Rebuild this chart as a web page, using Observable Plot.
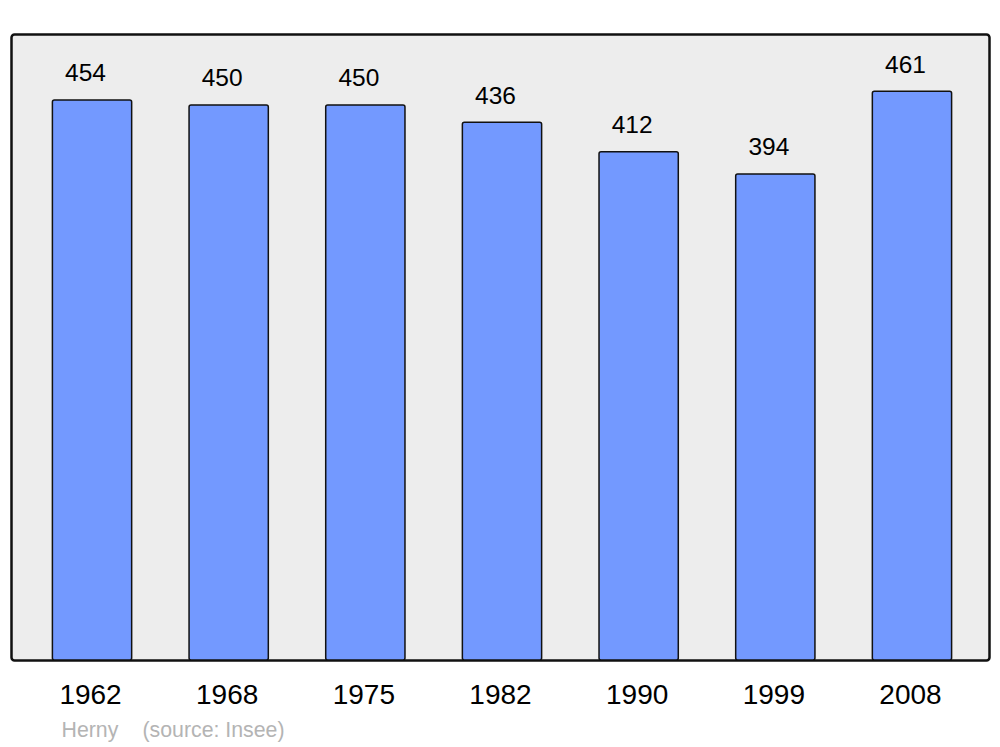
<!DOCTYPE html>
<html>
<head>
<meta charset="utf-8">
<script src="https://cdn.jsdelivr.net/npm/d3@7"></script>
<script src="https://cdn.jsdelivr.net/npm/@observablehq/plot@0.6"></script>
<style>
  html, body { margin: 0; padding: 0; background: #fff; }
  svg { display: block; font-family: "Liberation Sans", Arial, sans-serif; }
</style>
</head>
<body>
<div id="chart"></div>
<script>
const years = ["1962", "1968", "1975", "1982", "1990", "1999", "2008"];
const population = [454, 450, 450, 436, 412, 394, 461];
const author = "Herny";
const source = "(source: Insee)";

const data = years.map((y, i) => ({year: y, value: population[i]}));

const chart = Plot.plot({
  width: 1000,
  height: 747,
  marginLeft: 11,
  marginRight: 11,
  marginTop: 34,
  marginBottom: 87,
  style: {fontFamily: "'Liberation Sans', Arial, sans-serif", background: "#fff"},
  x: {domain: years, range: [23.7, 980.3], paddingInner: 0.42, paddingOuter: 0.21, round: false, axis: null},
  y: {domain: [0, 507.5], axis: null},
  marks: [
    Plot.frame({fill: "#ededed", stroke: "#111", strokeWidth: 2.5, rx: 3}),
    Plot.barY(data, {x: "year", y: "value", fill: "#7399ff", stroke: "#111", strokeWidth: 1.5, rx: 2}),
    Plot.text(data, {x: "year", y: "value", text: d => String(d.value), dy: -27, dx: -7, fontSize: 24.5, fill: "#000"}),
    Plot.text(data, {x: "year", y: 0, text: "year", dy: 35, dx: -2, fontSize: 28, fill: "#000"}),
    Plot.text([author], {frameAnchor: "bottom-left", lineAnchor: "middle", text: d => d, dx: 50, dy: 70, textAnchor: "start", fontSize: 21.3, fill: "#b4b4b4"}),
    Plot.text([source], {frameAnchor: "bottom-left", lineAnchor: "middle", text: d => d, dx: 131, dy: 70, textAnchor: "start", fontSize: 21.3, fill: "#b4b4b4"})
  ]
});
document.getElementById("chart").appendChild(chart);
</script>
</body>
</html>
